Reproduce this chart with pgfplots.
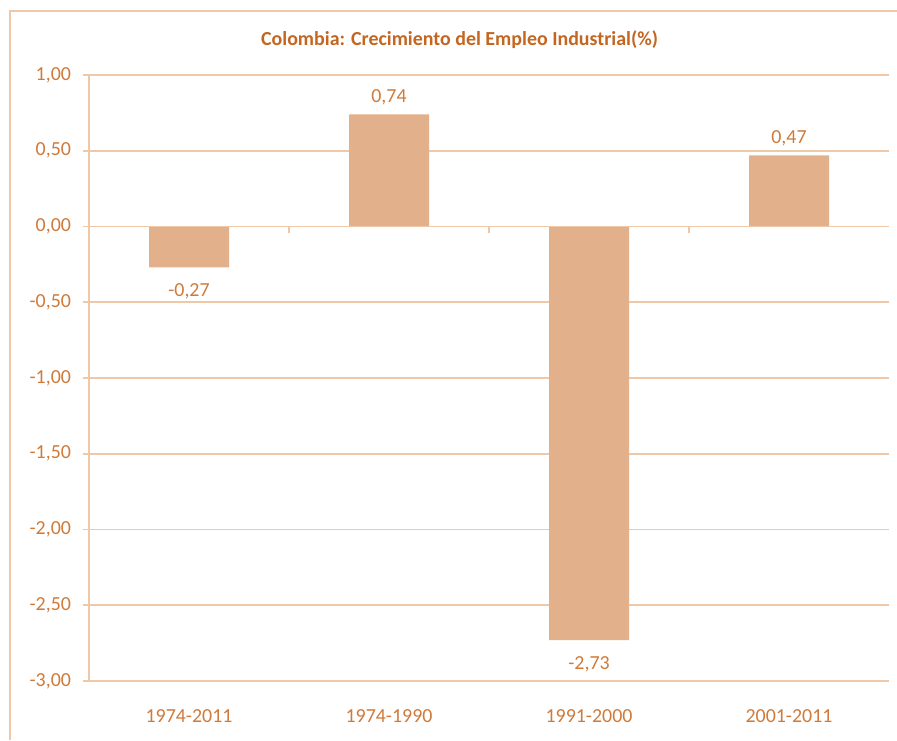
\documentclass[border=0pt]{standalone}
\usepackage{pgfplots}
\pgfplotsset{compat=1.18}
\usepackage{fontspec}
\setmainfont{Carlito}
\definecolor{barc}{HTML}{E2B08A}
\definecolor{gridc}{HTML}{EFC8A8}
\definecolor{txtc}{HTML}{CF7A3A}
\definecolor{titc}{HTML}{C4661F}
\begin{document}
\begin{tikzpicture}[x=1bp,y=1bp]
\begin{axis}[name=ax, at={(0,0)}, anchor=south west,
  width=400bp, height=303bp, scale only axis,
  xmin=-0.5, xmax=3.5, ymin=-3, ymax=1,
  ytick={-3,-2.5,-2,-1.5,-1,-0.5,0,0.5,1},
  xtick={0,1,2,3},
  xticklabels={1974-2011,1974-1990,1991-2000,2001-2011},
  axis x line*=bottom, axis y line*=left,
  axis line style={-},
  x axis line style={draw=none},
  y axis line style={gridc, line width=0.8bp},
  xtick style={draw=none},
  ytick style={gridc, line width=0.8bp},
  major tick length=3bp, tick align=outside,
  ymajorgrids, grid style={gridc, line width=0.8bp},
  tick label style={font=\fontsize{10}{12}\selectfont, text=txtc},
  yticklabel style={/pgf/number format/.cd, fixed, fixed zerofill, precision=2, use comma, assume math mode=true, /tikz/.cd, xshift=-2.5bp},
  xticklabel style={yshift=-8bp},
  ybar, bar width=40bp, bar shift=0pt,
  nodes near coords,
  every node near coord/.append style={font=\fontsize{10}{12}\selectfont, text=txtc,
    /pgf/number format/.cd, fixed, fixed zerofill, precision=2, use comma, assume math mode=true, /tikz/.cd},
  clip=false,
]
\addplot[fill=barc, draw=none, every node near coord/.append style={yshift=1bp}] coordinates {(1,0.74) (3,0.47)};
\addplot[fill=barc, draw=none, every node near coord/.append style={yshift=-4.5bp}] coordinates {(0,-0.27) (2,-2.73)};
\draw[gridc, line width=0.8bp] (axis cs:-0.5,0) -- (axis cs:3.5,0);
\draw[gridc, line width=0.8bp] (axis cs:0.5,0) -- (axis cs:0.5,-0.04);
\draw[gridc, line width=0.8bp] (axis cs:1.5,0) -- (axis cs:1.5,-0.04);
\draw[gridc, line width=0.8bp] (axis cs:2.5,0) -- (axis cs:2.5,-0.04);
\end{axis}
\node[text=titc, font=\bfseries\fontsize{10}{12}\selectfont] at (185.25,320.5) {Colombia: Crecimiento del Empleo Industrial(\%)};
\draw[gridc, line width=0.8bp] (-39.5,-29.5) -- (-39.5,335) -- (404,335);
\pgfresetboundingbox
\path[use as bounding box] (-44.5,-29.5) rectangle (404,340.5);
\end{tikzpicture}
\end{document}
